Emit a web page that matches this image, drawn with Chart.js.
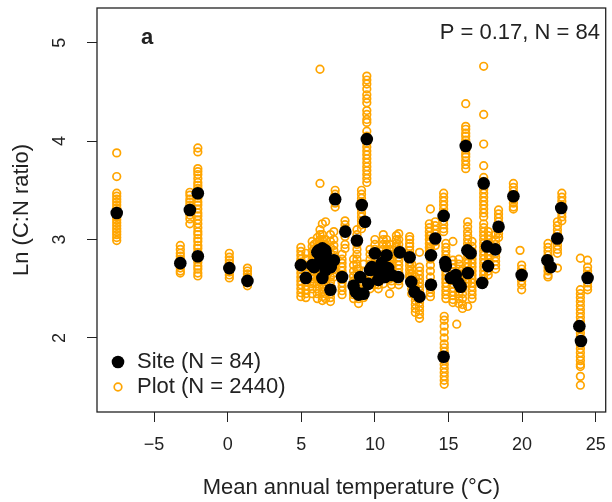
<!DOCTYPE html>
<html lang="en">
<head>
<meta charset="UTF-8">
<title>C:N ratio vs temperature</title>
<script src="https://cdn.jsdelivr.net/npm/chart.js"></script>
<style>
  body { margin: 0; background: #fff; }
  canvas { display: block; }
</style>
</head>
<body>
<canvas id="cnChart" width="612" height="502"></canvas>
<script>
// site means (black dots)
const siteMAT = [-7.54, -3.22, -2.57, -2.03, -2.03, 0.11, 1.34, 4.97, 5.31, 5.74,
  5.87, 6.09, 6.18, 6.30, 6.43, 6.43, 6.54, 6.63, 6.65, 6.65,
  6.85, 6.98, 7.00, 7.21, 7.30, 7.77, 7.99, 8.55, 8.70, 8.78,
  8.89, 9.00, 9.11, 9.23, 9.33, 9.45, 9.55, 9.67, 9.79, 10.00,
  10.23, 10.23, 10.46, 10.57, 10.68, 10.79, 10.90, 11.13, 11.58, 11.69,
  12.36, 12.47, 12.69, 13.03, 13.81, 13.81, 14.10, 14.67, 14.67, 14.78,
  14.82, 15.16, 15.49, 15.67, 15.83, 16.17, 16.28, 16.32, 16.50, 17.29,
  17.39, 17.62, 17.69, 18.18, 18.40, 19.41, 19.97, 21.72, 21.94, 22.39,
  22.66, 23.89, 24.00, 24.45];
const siteCN = [3.27, 2.76, 3.30, 3.47, 2.83, 2.71, 2.58, 2.74, 2.61, 2.74,
  2.72, 2.87, 2.89, 2.80, 2.91, 2.61, 2.76, 2.89, 2.86, 2.69,
  2.79, 2.49, 2.72, 2.79, 3.41, 2.62, 3.08, 2.53, 2.47, 2.99,
  2.44, 2.62, 3.35, 2.45, 3.18, 4.02, 2.55, 2.69, 2.72, 2.86,
  2.67, 2.59, 2.76, 2.70, 2.62, 2.84, 2.71, 2.64, 2.62, 2.87,
  2.82, 2.57, 2.47, 2.42, 2.84, 2.54, 3.01, 3.24, 1.81, 2.77,
  2.73, 2.61, 2.64, 2.56, 2.52, 3.95, 2.89, 2.66, 2.86, 2.56,
  3.57, 2.93, 2.73, 2.90, 3.13, 3.44, 2.64, 2.79, 2.72, 3.01,
  3.32, 2.12, 1.97, 2.61];

// plot values (open orange circles), one column per temperature
const plotMAT = [-7.54, -3.22, -2.57, -2.03, 0.11, 1.34, 4.97, 5.31, 5.74, 5.87,
  6.09, 6.27, 6.43, 6.65, 6.98, 7.21, 7.30, 7.77, 7.97, 8.55,
  8.78, 8.89, 9.09, 9.23, 9.45, 9.67, 10.00, 10.23, 10.57, 10.79,
  11.00, 11.13, 11.46, 11.62, 12.36, 12.50, 12.75, 13.03, 13.70, 13.77,
  14.10, 14.67, 14.71, 14.82, 15.30, 15.56, 15.70, 15.95, 16.17, 16.30,
  16.60, 17.39, 17.70, 18.20, 18.40, 19.41, 19.86, 19.97, 21.76, 22.40,
  22.70, 23.96, 24.45];
const plotCN = [
  [3.88, 3.64, 3.47, 3.44, 3.41, 3.38, 3.35, 3.32, 3.29, 3.26, 3.23, 3.20, 3.17, 3.14, 3.11, 3.08, 3.05, 3.02, 2.99],
  [2.94, 2.90, 2.86, 2.83, 2.80, 2.77, 2.74, 2.71, 2.68, 2.66],
  [3.48, 3.45, 3.41, 3.38, 3.35, 3.32, 3.28, 3.25, 3.21, 3.16],
  [3.93, 3.89, 3.72, 3.69, 3.66, 3.62, 3.58, 3.55, 3.52, 3.49, 3.45, 3.42, 3.38, 3.35, 3.31, 3.27, 3.24, 3.20,
   3.16, 3.12, 3.08, 3.05, 3.01, 2.98, 2.94, 2.91, 2.87, 2.84, 2.80, 2.77, 2.73, 2.70, 2.66, 2.63],
  [2.86, 2.82, 2.79, 2.76, 2.73, 2.70, 2.67, 2.64, 2.61],
  [2.71, 2.68, 2.65, 2.62, 2.59, 2.56, 2.53],
  [2.92, 2.88, 2.84, 2.80, 2.77, 2.74, 2.70, 2.66, 2.62, 2.58, 2.54, 2.50, 2.46, 2.42],
  [2.86, 2.80, 2.74, 2.68, 2.65, 2.61, 2.57, 2.53, 2.49, 2.45, 2.41],
  [2.98, 2.93, 2.88, 2.84, 2.80, 2.76, 2.72, 2.68, 2.64, 2.60, 2.55, 2.50, 2.45],
  [2.95, 2.90, 2.85, 2.80, 2.76, 2.72, 2.68, 2.64, 2.60, 2.56],
  [3.02, 2.97, 2.92, 2.87, 2.83, 2.78, 2.74, 2.70, 2.65, 2.60, 2.55, 2.50, 2.45, 2.40],
  [4.73, 3.57, 3.10, 3.05, 3.00, 2.96],
  [3.16, 3.05, 3.00, 2.95, 2.91, 2.87, 2.83, 2.78, 2.74, 2.69, 2.65, 2.61, 2.57, 2.52, 2.47, 2.42, 2.38],
  [3.18, 3.00, 2.95, 2.90, 2.86, 2.82, 2.78, 2.74, 2.69, 2.65, 2.60, 2.55, 2.50, 2.45, 2.40],
  [3.05, 2.98, 2.92, 2.86, 2.80, 2.74, 2.68, 2.62, 2.57, 2.53, 2.49, 2.45, 2.41, 2.37],
  [3.08, 3.00, 2.94, 2.89, 2.84, 2.79, 2.74, 2.70, 2.66, 2.62],
  [3.50, 3.46, 3.43, 3.40, 3.37, 3.33],
  [2.85, 2.80, 2.76, 2.72, 2.68, 2.64, 2.60, 2.56, 2.52, 2.48, 2.44],
  [3.19, 3.15, 3.11, 3.07, 3.03, 2.95, 2.91],
  [2.80, 2.74, 2.68, 2.63, 2.58, 2.53, 2.48, 2.44, 2.40],
  [3.10, 3.05, 3.00, 2.95, 2.90, 2.85, 2.80, 2.75, 2.70, 2.65, 2.60],
  [2.70, 2.62, 2.55, 2.50, 2.45, 2.40, 2.35],
  [3.50, 3.46, 3.42, 3.38, 3.35, 3.31, 3.27, 3.23, 3.19, 3.15, 3.11],
  [2.75, 2.68, 2.60, 2.55, 2.50, 2.45, 2.41],
  [4.66, 4.62, 4.58, 4.53, 4.47, 4.43, 4.39, 4.31, 4.27, 4.22, 4.19, 4.10, 4.05, 3.98, 3.94, 3.90, 3.86, 3.82,
   3.78, 3.74, 3.70, 3.66, 3.62, 3.58],
  [2.90, 2.85, 2.80, 2.75, 2.70, 2.65, 2.60, 2.55, 2.50],
  [3.00, 2.95, 2.90, 2.86, 2.82, 2.78, 2.74, 2.70, 2.66, 2.62, 2.58, 2.54],
  [2.80, 2.75, 2.70, 2.66, 2.62, 2.58, 2.54, 2.50],
  [3.05, 3.00, 2.95, 2.90, 2.85, 2.80, 2.75, 2.70, 2.65, 2.60, 2.55],
  [3.00, 2.95, 2.90, 2.86, 2.82, 2.78, 2.74, 2.70, 2.65],
  [2.95, 2.90, 2.85, 2.80, 2.75, 2.70, 2.65, 2.60, 2.45],
  [2.85, 2.80, 2.75, 2.70, 2.66, 2.62, 2.58, 2.54],
  [3.04, 3.00, 2.96, 2.92],
  [3.06, 3.00, 2.95, 2.90, 2.86, 2.82, 2.78, 2.74, 2.70, 2.66, 2.62, 2.58, 2.54],
  [3.03, 3.00, 2.96, 2.93, 2.89, 2.85, 2.81, 2.77, 2.73, 2.69, 2.65, 2.62],
  [2.75, 2.70, 2.65, 2.60, 2.55, 2.50, 2.45],
  [2.62, 2.57, 2.52, 2.47, 2.42, 2.38, 2.34, 2.30, 2.26],
  [2.87, 2.72, 2.68, 2.64, 2.60, 2.56, 2.52, 2.48, 2.44, 2.40, 2.36, 2.32, 2.28, 2.24, 2.20],
  [3.16, 3.12, 3.08, 3.04, 3.00, 2.96, 2.92, 2.88, 2.84],
  [3.31, 3.04, 2.98, 2.92, 2.86, 2.80, 2.74, 2.68, 2.62, 2.56, 2.50, 2.46, 2.42],
  [3.18, 3.14, 3.10, 3.06, 3.02, 2.98, 2.94],
  [3.47, 3.43, 3.39, 3.35, 3.31, 3.27, 3.23, 3.19, 3.15, 3.11, 3.08],
  [2.22, 2.18, 2.12, 2.06, 2.00, 1.94, 1.90, 1.86, 1.77, 1.73, 1.69, 1.65, 1.61, 1.57, 1.53],
  [2.96, 2.92, 2.88, 2.84, 2.80, 2.76, 2.72, 2.68, 2.64, 2.60, 2.56, 2.52, 2.48, 2.44, 2.40],
  [2.98, 2.79, 2.75, 2.71, 2.67, 2.63, 2.59, 2.55, 2.51, 2.47, 2.43, 2.39, 2.36],
  [2.14],
  [2.80, 2.75, 2.70, 2.65, 2.60, 2.55, 2.50, 2.45, 2.40, 2.35],
  [2.70, 2.65, 2.60, 2.55, 2.50, 2.45, 2.40, 2.34, 2.30],
  [4.38, 4.15, 4.12, 4.08, 4.05, 4.01, 3.98, 3.94, 3.91, 3.87, 3.84, 3.80, 3.76, 3.72],
  [3.18, 3.13, 3.08, 3.04, 3.00, 2.96, 2.92, 2.88, 2.84, 2.80, 2.76, 2.72, 2.68, 2.64, 2.60, 2.56, 2.32],
  [2.98, 2.93, 2.88, 2.84, 2.80, 2.76, 2.72, 2.68, 2.64, 2.60, 2.56, 2.52, 2.48, 2.44, 2.40],
  [4.76, 4.27, 3.97, 3.75, 3.63, 3.59, 3.55, 3.51, 3.47, 3.43, 3.39, 3.35, 3.31, 3.27, 3.23, 3.16, 3.12, 3.08,
   3.04, 3.00, 2.96, 2.92, 2.88, 2.84, 2.80, 2.76, 2.72, 2.68, 2.64, 2.60, 2.56],
  [3.08, 3.04, 3.00, 2.96, 2.92, 2.88, 2.84, 2.80, 2.76, 2.72, 2.68, 2.64],
  [3.05, 3.00, 2.95, 2.90, 2.86, 2.82, 2.78, 2.74, 2.70],
  [3.30, 3.26, 3.22, 3.18, 3.14, 3.10, 3.06, 3.02],
  [3.57, 3.53, 3.49, 3.45, 3.41, 3.37, 3.33, 3.31],
  [2.89],
  [2.74, 2.70, 2.66, 2.62, 2.58, 2.54, 2.49],
  [2.96, 2.92, 2.88, 2.84, 2.80, 2.76, 2.72, 2.68, 2.64, 2.62],
  [3.18, 3.14, 3.10, 3.06, 3.02, 2.98, 2.94, 2.90, 2.86, 2.71],
  [3.47, 3.43, 3.39, 3.35, 3.31, 3.27, 3.23, 3.19],
  [2.81, 2.49, 2.45, 2.41, 2.37, 2.33, 2.29, 2.25, 2.21, 2.17, 2.13, 2.09, 2.05, 2.01, 1.97, 1.93, 1.89, 1.85,
   1.81, 1.77, 1.73, 1.71, 1.61, 1.52],
  [2.79, 2.72, 2.68, 2.64, 2.60, 2.56, 2.52, 2.49]
];

const xTicks = [-5, 0, 5, 10, 15, 20, 25];
const yTicks = [2, 3, 4, 5];
const xRange = [-8.88, 25.68];
const yRange = [1.248, 5.352];

const ORANGE = '#FFA500';
const FONT = '"Liberation Sans", Arial, Helvetica, sans-serif';

const plotPoints = [];
plotMAT.forEach((x, i) => plotCN[i].forEach(y => plotPoints.push({ x: x, y: y })));
const sitePoints = siteMAT.map((x, i) => ({ x: x, y: siteCN[i] }));

// frame, tick labels, titles, legend and panel text
const decorations = {
    id: 'decorations',
    afterDraw(chart) {
        const ctx = chart.ctx;
        const a = chart.chartArea;
        const xs = chart.scales.x, ys = chart.scales.y;
        ctx.save();
        ctx.strokeStyle = '#222';
        ctx.lineWidth = 1.3;
        ctx.strokeRect(a.left, a.top, a.right - a.left, a.bottom - a.top);

        ctx.fillStyle = '#222';
        ctx.font = '18px ' + FONT;
        ctx.textAlign = 'center';
        ctx.textBaseline = 'middle';
        xTicks.forEach(v => {
            ctx.fillText(String(v).replace('-', '\u2212'), xs.getPixelForValue(v), 445);
        });
        yTicks.forEach(v => {
            ctx.save();
            ctx.translate(60, ys.getPixelForValue(v));
            ctx.rotate(-Math.PI / 2);
            ctx.fillText(String(v), 0, 0);
            ctx.restore();
        });

        ctx.font = '22px ' + FONT;
        ctx.fillText('Mean annual temperature (\u00B0C)', (a.left + a.right) / 2, 488);
        ctx.save();
        ctx.translate(22, (a.top + a.bottom) / 2);
        ctx.rotate(-Math.PI / 2);
        ctx.fillText('Ln (C:N ratio)', 0, 0);
        ctx.restore();

        ctx.textAlign = 'right';
        ctx.fillText('P = 0.17, N = 84', 600, 33);
        ctx.textAlign = 'center';
        ctx.font = 'bold 22px ' + FONT;
        ctx.fillText('a', 147, 38);

        // legend
        ctx.beginPath();
        ctx.arc(118, 362, 6.3, 0, Math.PI * 2);
        ctx.fillStyle = '#000';
        ctx.fill();
        ctx.beginPath();
        ctx.arc(118, 387, 3.8, 0, Math.PI * 2);
        ctx.strokeStyle = ORANGE;
        ctx.lineWidth = 1.7;
        ctx.stroke();
        ctx.fillStyle = '#222';
        ctx.font = '22px ' + FONT;
        ctx.textAlign = 'left';
        ctx.fillText('Site (N = 84)', 137, 362);
        ctx.fillText('Plot (N = 2440)', 137, 387);
        ctx.restore();
    }
};

new Chart(document.getElementById('cnChart').getContext('2d'), {
    type: 'scatter',
    data: {
        datasets: [{
            label: 'Site (N = 84)',
            data: sitePoints,
            order: 0,
            pointRadius: 6.3,
            pointBorderWidth: 0,
            pointBackgroundColor: '#000',
            pointBorderColor: '#000'
        }, {
            label: 'Plot (N = 2440)',
            data: plotPoints,
            order: 1,
            pointRadius: 3.8,
            pointBorderWidth: 1.7,
            pointBorderColor: ORANGE,
            pointBackgroundColor: 'rgba(0,0,0,0)'
        }]
    },
    options: {
        responsive: false,
        animation: false,
        layout: { padding: { left: 0, right: 2, top: 8, bottom: 0 } },
        plugins: { legend: { display: false }, tooltip: { enabled: false } },
        scales: {
            x: {
                type: 'linear',
                min: xRange[0],
                max: xRange[1],
                afterBuildTicks: s => { s.ticks = xTicks.map(v => ({ value: v })); },
                afterFit: s => { s.height = 90; },
                ticks: { display: false },
                border: { display: false },
                grid: { drawOnChartArea: false, drawTicks: true, tickLength: 10, tickColor: '#222', tickWidth: 1 }
            },
            y: {
                type: 'linear',
                min: yRange[0],
                max: yRange[1],
                afterBuildTicks: s => { s.ticks = yTicks.map(v => ({ value: v })); },
                afterFit: s => { s.width = 97; },
                ticks: { display: false },
                border: { display: false },
                grid: { drawOnChartArea: false, drawTicks: true, tickLength: 10, tickColor: '#222', tickWidth: 1 }
            }
        }
    },
    plugins: [decorations]
});
</script>
</body>
</html>
